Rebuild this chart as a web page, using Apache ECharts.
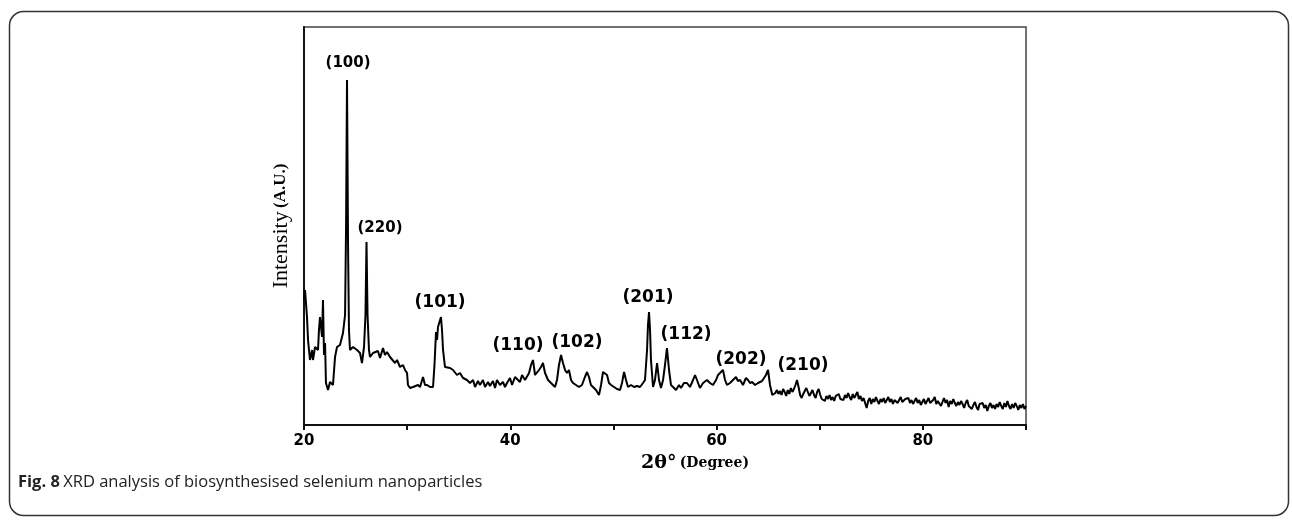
<!DOCTYPE html>
<html>
<head>
<meta charset="utf-8">
<script src="https://cdn.jsdelivr.net/npm/echarts@6/dist/echarts.min.js"></script>
<style>
html,body{margin:0;padding:0;background:#fff;}
#chart{width:1292px;height:520px;}
</style>
</head>
<body>
<div id="chart"></div>
<script>
// 2θ positions (degrees)
const twoTheta = [
20.00,20.10,20.29,20.39,20.58,20.78,20.87,21.07,21.36,21.45,21.55,21.75,21.84,21.94,22.04,22.13,22.33,22.52,22.81,23.01,23.20,23.49,23.78,23.98,24.08,24.17,24.27,24.36,24.46,24.75,25.14,25.43,25.62,25.82,25.96,26.06,26.16,26.30,26.40,26.69,26.88,27.17,27.37,27.66,27.85,28.05,28.34,28.53,28.82,29.02,29.31,29.60,29.79,29.99,30.08,30.28,30.57,30.76,31.05,31.25,31.54,31.73,31.93,32.22,32.51,32.65,32.80,32.90,32.99,33.14,33.28,33.38,33.48,33.67,33.86,34.16,34.45,34.83,35.12,35.42,35.80,36.09,
36.39,36.58,36.87,37.06,37.35,37.55,37.84,38.03,38.32,38.52,38.71,39.00,39.29,39.49,39.68,39.97,40.17,40.46,40.65,40.94,41.14,41.43,41.62,41.82,42.01,42.20,42.40,42.59,42.78,42.98,43.17,43.37,43.56,43.66,43.95,44.14,44.34,44.53,44.72,44.92,45.11,45.31,45.50,45.69,45.89,46.08,46.37,46.66,46.95,47.24,47.44,47.63,47.82,48.02,48.31,48.60,48.80,48.99,49.18,49.38,49.57,49.77,50.06,50.35,50.64,50.83,51.03,51.22,51.41,51.70,52.00,52.29,52.58,52.87,53.06,53.26,53.35,53.45,53.55,53.64,53.84,54.03,54.23,54.42,54.61,54.81,55.00,55.19,55.39,55.58,55.78,56.07,56.36,56.55,56.84,57.13,57.42,57.72,57.91,58.10,58.39,58.69,58.88,59.07,59.36,59.65,59.95,60.14,60.33,60.62,60.82,61.01,61.30,61.59,61.88,62.07,62.27,62.56,62.85,63.05,63.24,63.44,63.73,64.02,64.21,64.41,64.60,64.79,64.99,65.18,
65.40,65.55,65.70,65.85,66.00,66.15,66.30,66.45,66.60,66.75,66.90,67.05,67.20,67.35,67.50,67.65,67.80,67.95,68.10,68.25,68.40,68.55,68.70,68.85,69.00,69.15,69.30,69.45,69.60,69.75,69.90,70.05,70.20,70.35,70.50,70.65,70.80,70.95,71.10,71.25,71.40,71.55,71.70,71.85,72.00,72.15,72.30,72.45,72.60,72.75,72.90,73.05,73.20,73.35,73.50,73.65,73.80,73.95,74.10,74.25,74.40,74.55,74.70,74.85,75.00,75.15,75.30,75.45,75.60,75.75,75.90,76.05,76.20,76.35,76.50,76.65,76.80,76.95,77.10,77.25,77.40,77.55,77.70,77.85,78.00,78.15,78.30,78.45,78.60,78.75,78.90,79.05,79.20,79.35,79.50,79.65,79.80,79.95,80.10,80.25,80.40,80.55,80.70,80.85,81.00,81.15,81.30,81.45,81.60,81.75,81.90,82.05,82.20,82.35,82.50,82.65,82.80,82.95,83.10,83.25,83.40,83.55,83.70,83.85,84.00,84.15,84.30,84.45,84.60,84.75,84.90,85.05,85.20,85.35,85.50,85.65,85.80,85.95,86.10,86.25,86.40,86.55,86.70,86.85,87.00,87.15,87.30,87.45,87.60,87.75,87.90,88.05,88.20,88.35,88.50,88.65,88.80,88.95,89.10,89.25,89.40,89.55,89.70,89.85,90.00
];
// Intensity (a.u.)
const intensity = [
125,135,108,85,65,75,65,78,75,95,108,88,125,70,82,42,35,43,40,68,78,80,92,110,200,345,180,95,75,78,75,72,62,78,110,183,110,75,68,72,70,74,67,77,70,73,68,68,62,65,58,60,55,52,40,37,38,36,40,38,48,40,40,38,38,60,93,85,98,100,108,95,75,58,60,57,55,50,52,47,45,42,
45,38,44,40,45,38,43,39,44,37,45,40,43,38,42,47,40,48,50,43,50,45,47,52,60,65,50,48,55,58,62,52,50,45,42,40,38,45,60,70,62,55,52,55,45,42,40,38,40,48,53,48,40,38,35,30,40,53,55,50,42,40,38,36,35,42,53,45,38,40,38,39,38,42,45,75,100,113,95,65,38,45,62,45,37,45,60,77,55,40,38,35,40,37,42,42,38,45,50,45,37,42,40,45,42,40,45,50,48,55,45,40,42,45,48,44,45,40,47,45,42,43,40,42,40,44,47,50,55,40,
30,28,32,35,31,34,30,36,33,29,
35,31,37,33,36,40,45,38,30,27,
31,34,37,33,29,32,35,30,27,33,
36,30,26,28,24,29,26,30,25,28,
24,29,27,31,26,28,25,30,27,32,
28,25,31,27,30,33,26,29,24,27,
22,17,24,27,21,26,23,28,24,21,
26,23,27,22,25,28,23,26,21,25,
27,22,24,28,23,21,26,24,27,22,
25,21,24,27,22,25,20,23,26,21,
24,27,22,20,25,28,21,24,26,19,
23,27,22,25,18,24,21,26,22,19,
23,20,24,21,17,22,25,19,21,16,
20,23,18,15,21,19,22,17,20,14,
19,22,17,20,16,21,18,23,19,16,
22,18,24,19,16,21,17,22,19,15,
20,17,21,16,19
];
// Peak (hkl) annotations
const peakLabels = ['(100)','(220)','(101)','(110)','(102)','(201)','(112)','(202)','(210)'];
const peakLabelX = [24.27,27.37,33.19,40.75,46.47,53.35,57.04,62.37,68.38];
const peakLabelY = [362,197,122,79,82,127,90,65,59];
const xTicks = [20,40,60,80];

const chart = echarts.init(document.getElementById('chart'), null, {renderer:'canvas'});
const lineData = twoTheta.map((x,i)=>[x, intensity[i]]);
const labelData = peakLabels.map((n,i)=>({
  name:n, value:[peakLabelX[i], peakLabelY[i]],
  label:{fontSize: i<2 ? 15 : 17}
}));

chart.setOption({
  animation:false,
  backgroundColor:'#fff',
  grid:{left:304,right:266,top:27,bottom:95,show:true,borderColor:'#444',borderWidth:1.5,containLabel:false},
  xAxis:{
    type:'value',min:20,max:90,interval:10,
    name:'{a|2θ°} {b|(Degree)}',nameLocation:'middle',nameGap:27,
    nameTextStyle:{padding:[0,0,0,60],rich:{
      a:{fontFamily:'DejaVu Serif',fontWeight:'bold',fontSize:19,color:'#000'},
      b:{fontFamily:'DejaVu Serif',fontWeight:'bold',fontSize:14,color:'#000'}
    }},
    axisLine:{show:true,onZero:false,lineStyle:{color:'#111',width:2}},
    axisTick:{show:true,inside:false,length:5,lineStyle:{color:'#111',width:2}},
    axisLabel:{margin:9,fontFamily:'DejaVu Sans',fontWeight:'bold',fontSize:15,color:'#000',
      formatter:v=>xTicks.includes(v)?String(v):''},
    splitLine:{show:false}
  },
  yAxis:{
    type:'value',min:0,max:398,
    name:'{a|Intensity} {b|(A.U.)}',nameLocation:'middle',nameGap:12,nameRotate:90,
    nameTextStyle:{rich:{
      a:{fontFamily:'Liberation Serif',fontSize:22,color:'#000'},
      b:{fontFamily:'Liberation Serif',fontWeight:'bold',fontSize:17,color:'#000'}
    }},
    axisLine:{show:true,onZero:false,lineStyle:{color:'#111',width:2}},
    axisTick:{show:false},axisLabel:{show:false},splitLine:{show:false}
  },
  series:[
    {type:'line',data:lineData,showSymbol:false,symbol:'none',
     lineStyle:{color:'#000',width:2},z:3},
    {type:'scatter',data:labelData,symbolSize:0,clip:false,itemStyle:{opacity:1},
     label:{show:true,position:'inside',formatter:p=>p.name,opacity:1,
       fontFamily:'DejaVu Sans',fontWeight:'bold',color:'#000'},z:4}
  ],
  graphic:[
    {type:'rect',left:7,top:9,shape:{width:1279,height:504,r:14},
     style:{fill:null,stroke:'#333',lineWidth:1.5},silent:true},
    {type:'text',left:18,top:474,
     style:{text:'{a|Fig. 8} {b|XRD analysis of biosynthesised selenium nanoparticles}',
       rich:{a:{fontFamily:'Open Sans',fontWeight:'bold',fontSize:16.5,fill:'#222'},
             b:{fontFamily:'Open Sans',fontSize:16.5,fill:'#222'}}}}
  ]
});
</script>
</body>
</html>
